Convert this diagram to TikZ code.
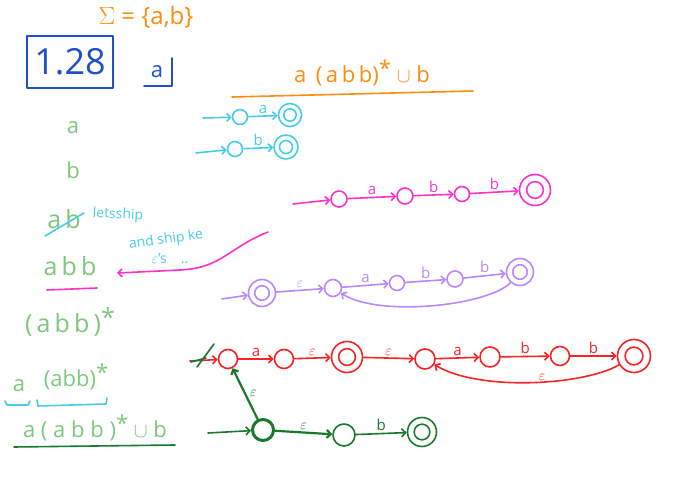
\documentclass[tikz,border=0pt]{standalone}
\usepackage{fontspec}
\setmainfont{Open Sans}
\usetikzlibrary{arrows.meta}
\definecolor{PenOrange}{RGB}{255,140,10}
\definecolor{PenBlue}{RGB}{30,80,200}
\definecolor{PenGreen}{RGB}{125,200,125}
\definecolor{PenDark}{RGB}{25,120,45}
\definecolor{PenCyan}{RGB}{70,205,230}
\definecolor{PenMagenta}{RGB}{255,50,200}
\definecolor{PenPurple}{RGB}{185,135,255}
\definecolor{PenRed}{RGB}{250,35,35}
\newcommand{\kstar}{\raisebox{0.25em}{*}}

\begin{document}
\begin{tikzpicture}[x=1pt,y=-1pt,>={Straight Barb[length=4pt,width=8pt]},line width=1.6pt,line cap=round,line join=round]
    \tikzset{st/.style={circle,draw,inner sep=0pt,minimum size=#1},st/.default=17pt,
      acc/.style={circle,draw,inner sep=0pt,minimum size=#1,
        path picture={\draw (path picture bounding box.center) circle ({0.27*#1});}},
      acc/.default=28pt,
      lbl/.style={above,inner sep=2pt,font=\fontsize{15}{15}\selectfont},
      hand/.style={inner sep=0pt,font=\fontsize{22}{24}\selectfont},
      note/.style={inner sep=0pt,font=\fontsize{14}{15}\selectfont}}
    \useasboundingbox (0,0) rectangle (697,478);

    % alphabet and the boxed number
    \node[hand,text=PenOrange,font=\fontsize{24}{26}\selectfont] (sigma) at (146,17) {$\Sigma$ = \{a,b\}};
    \node[draw=PenBlue,text=PenBlue,minimum width=86pt,minimum height=52pt,font=\fontsize{36}{38}\selectfont] (num) at (70,62) {1.28};
    \node[hand,text=PenBlue] (ablue) at (157,72) {a};
    \draw[PenBlue] (144,86) -- (172,86) -- (172,58);

    % the expression
    \node[hand,text=PenOrange] (re) at (362,73) {a\, (\,a\,b\,b)\kstar\ $\cup$ b};
    \draw[PenOrange] (232,97) -- (473,91);

    % left column
    \node[hand,text=PenGreen] (ga) at (73,128) {a};
    \node[hand,text=PenGreen] (gb) at (73,170) {b};
    \node[hand,text=PenGreen,font=\fontsize{25}{26}\selectfont] (gab) at (64,219) {a\,b};
    \draw[PenCyan] (45,236) -- (84,213);
    \node[note,text=PenCyan,rotate=-3] (n1) at (118,215) {letsship};
    \node[note,text=PenCyan,rotate=8] (n2) at (166,240) {and ship ke};
    \node[note,text=PenCyan] (n3) at (170,259) {$\varepsilon$'s\quad ..};
    \node[hand,text=PenGreen,font=\fontsize{25}{26}\selectfont] (gabb) at (70,266) {a\,b\,b};
    \draw[PenMagenta] (47,290) -- (97,288);
    \coordinate (mtail) at (268,232);
    \coordinate (mhead) at (117,273);
    \draw[PenMagenta,->] (mtail) .. controls (228,248) and (222,268) .. (180,270) .. controls (150,272) .. (mhead);
    \node[hand,text=PenGreen,font=\fontsize{25}{26}\selectfont] (gstar) at (70,322) {(\,a\,b\,b\,)\kstar};
    \node[hand,text=PenGreen] (ga2) at (19,386) {a};
    \node[hand,text=PenGreen] (gabbs) at (76,377) {(abb)\kstar};
    \draw[PenCyan] (5,401) -- (7,405) -- (28,405) -- (30,401);
    \draw[PenCyan] (37,400) -- (38,406) -- (106,404) -- (107,398);
    \node[hand,text=PenGreen] (gfull) at (95,428) {a ( a b b )\kstar\ $\cup$ b};
    \draw[PenDark] (14,447) -- (175,445);

    % a and b
    \begin{scope}[PenCyan]
      \coordinate (ca0) at (203,118);
      \node[st=15pt] (ca1) at (240,117) {};
      \node[acc=23pt] (ca2) at (290,115) {};
      \draw[->] (ca0) -- (ca1);
      \draw[->] (ca1) -- node[lbl] {a} (ca2);
      \coordinate (cb0) at (196,153);
      \node[st=15pt] (cb1) at (235,149) {};
      \node[acc=24pt] (cb2) at (286,147) {};
      \draw[->] (cb0) -- (cb1);
      \draw[->] (cb1) -- node[lbl] {b} (cb2);
    \end{scope}

    % abb
    \begin{scope}[PenMagenta]
      \coordinate (m0) at (293,204);
      \node[st=16pt] (m1) at (339,199) {};
      \node[st=16pt] (m2) at (405,196) {};
      \node[st=15pt] (m3) at (462,194) {};
      \node[acc=31pt] (m4) at (535,190) {};
      \draw[->] (m0) -- (m1);
      \draw[->] (m1) -- node[lbl] {a} (m2);
      \draw[->] (m2) -- node[lbl] {b} (m3);
      \draw[->] (m3) -- node[lbl] {b} (m4);
    \end{scope}

    % (abb)*
    \begin{scope}[PenPurple]
      \coordinate (p0) at (222,299);
      \node[acc=27pt] (p1) at (262,293) {};
      \node[st=17pt] (p2) at (333,288) {};
      \node[st=15pt] (p3) at (397,283) {};
      \node[st=16pt] (p4) at (455,279) {};
      \node[acc=27pt] (p5) at (520,272) {};
      \draw[->] (p0) -- (p1);
      \draw[->] (p1) -- node[lbl] {$\varepsilon$} (p2);
      \draw[->] (p2) -- node[lbl] {a} (p3);
      \draw[->] (p3) -- node[lbl] {b} (p4);
      \draw[->] (p4) -- node[lbl] {b} (p5);
      \draw[->] (p5) .. controls (490,305) and (380,318) .. (p2);
    \end{scope}

    % a(abb)*
    \begin{scope}[PenRed]
      \coordinate (r0) at (190,361);
      \node[st=19pt] (r1) at (228,359) {};
      \node[st=19pt] (r2) at (284,359) {};
      \node[acc=31pt] (r3) at (347,357) {};
      \node[st=20pt] (r4) at (425,359) {};
      \node[st=20pt] (r5) at (490,357) {};
      \node[st=19pt] (r6) at (560,356) {};
      \node[acc=33pt] (r7) at (634,356) {};
      \draw[->] (r0) -- (r1);
      \draw[->] (r1) -- node[lbl] {a} (r2);
      \draw[->] (r2) -- node[lbl] {$\varepsilon$} (r3);
      \draw[->] (r3) -- node[lbl] {$\varepsilon$} (r4);
      \draw[->] (r4) -- node[lbl] {a} (r5);
      \draw[->] (r5) -- node[lbl] {b} (r6);
      \draw[->] (r6) -- node[lbl] {b} (r7);
      \draw[->] (r7) .. controls (585,385) and (480,392) .. node[lbl,pos=0.45,inner sep=1pt] {$\varepsilon$} (r4);
    \end{scope}

    % a(abb)* u b
    \begin{scope}[PenDark]
      \draw (191,362) -- (206,358);
      \draw (197,367) -- (214,344);
      \coordinate (g0) at (208,433);
      \node[st=21pt,line width=3pt] (g1) at (263,430) {};
      \node[st=22pt] (g2) at (344,435) {};
      \node[acc=29pt] (g3) at (422,432) {};
      \draw[->] (g0) -- (g1);
      \draw[->,line width=2.2pt] (g1) -- node[lbl,right,inner sep=4pt] {$\varepsilon$} (r1);
      \draw[->,line width=2.2pt] (g1) -- node[lbl] {$\varepsilon$} (g2);
      \draw[->] (g2) -- node[lbl] {b} (g3);
    \end{scope}
\end{tikzpicture}
\end{document}
